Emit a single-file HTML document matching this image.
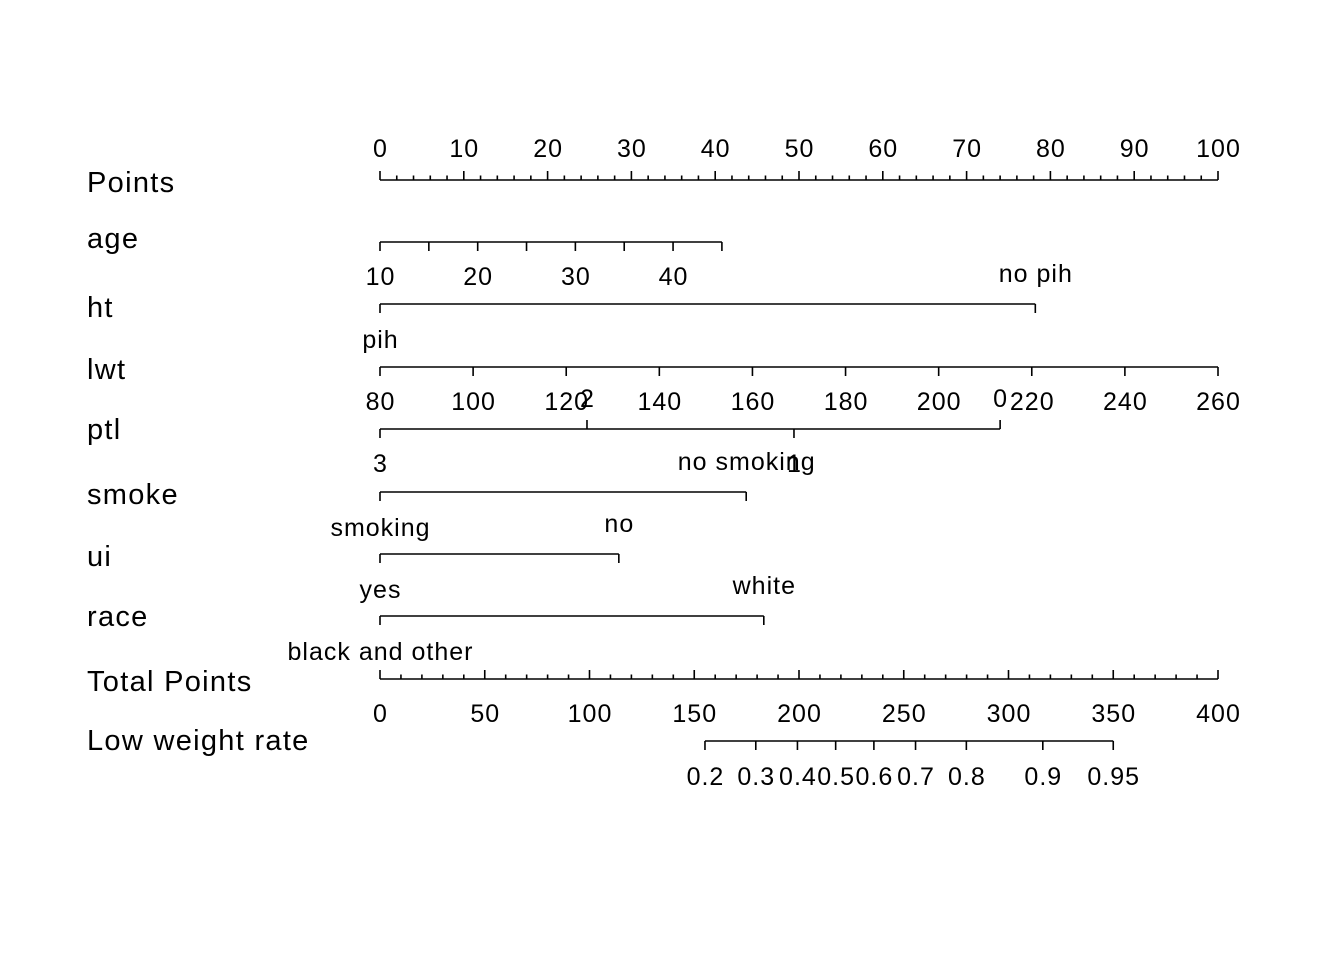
<!DOCTYPE html>
<html><head><meta charset="utf-8"><style>body{margin:0;background:#fff}svg{display:block}text{font-family:"Liberation Sans",Arial,sans-serif;fill:#000}</style></head>
<body>
<svg id="c" width="1344" height="960"></svg>
<script>
const varNames=["Points","age","ht","lwt","ptl","smoke","ui","race","Total Points","Low weight rate"];
const ageVals=[10,15,20,25,30,35,40,45];const ageLabels=[10,20,30,40];const agePtsPerYear=40.8/35;
const htLevels=["pih","no pih"];const htPts=[0,78.2];
const lwtVals=[80,100,120,140,160,180,200,220,240,260];
const ptlLevels=["3","2","1","0"];const ptlPts=[0,24.7,49.4,74.0];
const smokeLevels=["smoking","no smoking"];const smokePts=[0,43.7];
const uiLevels=["yes","no"];const uiPts=[0,28.5];
const raceLevels=["black and other","white"];const racePts=[0,45.8];
const probVals=[0.2,0.3,0.4,0.5,0.6,0.7,0.8,0.9,0.95];
const lpIntercept=217.5,lpSlope=45.0;
const svg=document.getElementById('c');const NS='http://www.w3.org/2000/svg';
const px=p=>380+p*8.38, tx=t=>380+t*838/400;
function ln(x1,y1,x2,y2,n){const l=document.createElementNS(NS,'line');l.setAttribute('x1',x1);l.setAttribute('y1',y1);l.setAttribute('x2',x2);l.setAttribute('y2',y2);l.setAttribute('stroke','#000');l.setAttribute('stroke-width','1.6');

svg.appendChild(l);}
function tx_(x,y,s,sz,anchor,n){const t=document.createElementNS(NS,'text');const ls=sz>27?1.3:1;t.setAttribute('x',anchor==='middle'?x+ls/2:x);t.setAttribute('y',y);t.setAttribute('font-size',sz);t.setAttribute('letter-spacing',ls);t.setAttribute('text-anchor',anchor);t.textContent=s;

svg.appendChild(t);}
const labY=[192,248,317,379,439,504,566,626,691,750];
varNames.forEach((v,i)=>tx_(87,labY[i],v,29,'start','row-label'));
ln(px(0),180,px(100),180,'points-axis');
for(let p=0;p<=100;p+=2){const maj=p%10===0;ln(px(p),180,px(p),maj?171:175.5,'points-tick');if(maj)tx_(px(p),157,String(p),25,'middle','points-tick-label');}
const ay=242;ln(px((ageVals[0]-10)*agePtsPerYear),ay,px((ageVals[ageVals.length-1]-10)*agePtsPerYear),ay,'age-axis');
ageVals.forEach(a=>ln(px((a-10)*agePtsPerYear),ay,px((a-10)*agePtsPerYear),ay+9,'age-tick'));
ageLabels.forEach(a=>tx_(px((a-10)*agePtsPerYear),285,String(a),25,'middle','age-tick-label'));
function cat(y,levels,pts,name){ln(px(Math.min(...pts)),y,px(Math.max(...pts)),y,name+'-axis');
levels.forEach((l,i)=>{const x=px(pts[i]);const below=i%2===0;ln(x,y,x,below?y+9:y-9,name+'-tick');tx_(x,below?y+43:y-22,l,25,'middle',name+'-level-label');});}
function cat2(y,levels,pts,name){ln(px(Math.min(...pts)),y,px(Math.max(...pts)),y,name+'-axis');
levels.forEach((l,i)=>{const x=px(pts[i]);const below=i%2===0;ln(x,y,x,y+9,name+'-tick');tx_(x,below?y+44:y-22,l,25,'middle',name+'-level-label');});}
cat2(304,htLevels,htPts,'ht');
ln(px(0),367,px(100),367,'lwt-axis');
lwtVals.forEach(w=>{const x=px((w-80)/180*100);ln(x,367,x,376,'lwt-tick');tx_(x,410,String(w),25,'middle','lwt-tick-label');});
cat(429,ptlLevels,ptlPts,'ptl');
cat2(492,smokeLevels,smokePts,'smoke');
cat2(554,uiLevels,uiPts,'ui');
cat2(616,raceLevels,racePts,'race');
ln(tx(0),679,tx(400),679,'total-points-axis');
for(let t=0;t<=400;t+=10){const maj=t%50===0;ln(tx(t),679,tx(t),maj?670:674.5,'total-points-tick');if(maj)tx_(tx(t),722,String(t),25,'middle','total-points-tick-label');}
const tp=p=>lpIntercept+lpSlope*Math.log(p/(1-p));
ln(tx(tp(probVals[0])),741,tx(tp(probVals[probVals.length-1])),741,'low-weight-rate-axis');
probVals.forEach(p=>{const x=tx(tp(p));ln(x,741,x,750,'low-weight-rate-tick');tx_(x,785,String(p),25,'middle','low-weight-rate-tick-label');});
</script>
</body></html>
